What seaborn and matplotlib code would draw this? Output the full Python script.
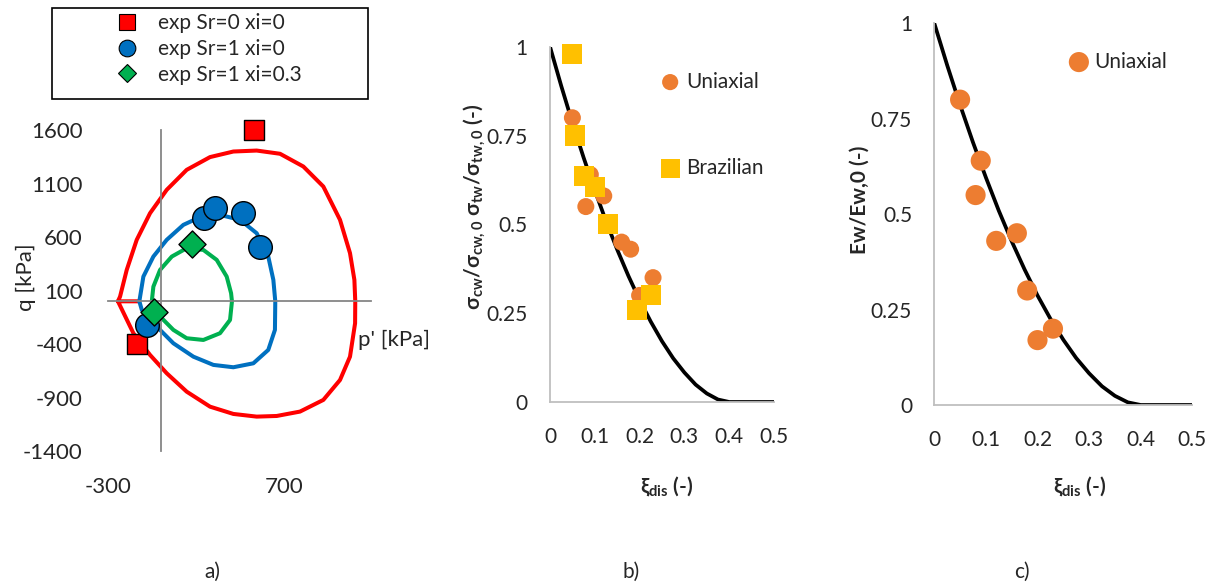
import numpy as np
import pandas as pd
import matplotlib
matplotlib.use("Agg")
import matplotlib.pyplot as plt
import seaborn as sns
from matplotlib.patches import Rectangle
from matplotlib.lines import Line2D

# ---- panel a data (p', q in kPa) ----
exp_sr0_p = [530, -135]
exp_sr0_q = [1600, -400]
exp_sr1_p = [245, 308, 467, 564, -78]
exp_sr1_q = [775, 869, 822, 503, -219]
exp_xi03_p = [177, -39]
exp_xi03_q = [531, -97]

red_p = [-130, -245, -233, -195, -138, -62, 33, 147, 280, 413, 546, 679, 812, 926, 1021,
         1078, 1103, 1108, 1107, 1078, 1021, 926, 793, 660, 546, 413, 280, 147, 33, -62,
         -157, -245]
red_q = [0, 0, 44, 293, 574, 823, 1041, 1228, 1347, 1399, 1408, 1378, 1259, 1072, 761,
         450, 200, 0, -205, -517, -735, -921, -1030, -1071, -1077, -1052, -984, -844, -672,
         -501, -298, 0]
blue_p = [-123, -100, -43, 33, 128, 223, 337, 451, 546, 612, 641, 652, 650, 612, 527,
          413, 299, 185, 71, -5, -62, -109, -123]
blue_q = [0, 231, 418, 574, 714, 786, 807, 761, 636, 418, 200, 0, -267, -454, -579,
          -616, -594, -517, -392, -267, -174, -80, 0]
green_p = [-52, -43, -5, 62, 147, 242, 318, 375, 400, 405, 394, 337, 242, 147, 71, 5, -43, -52]
green_q = [0, 137, 293, 418, 496, 480, 387, 231, 76, 0, -174, -298, -361, -345, -267, -158, -64, 0]

# ---- panels b, c data ----
xi_uni = [0.05, 0.09, 0.08, 0.12, 0.16, 0.18, 0.23, 0.20]
str_uni = [0.80, 0.64, 0.55, 0.58, 0.45, 0.43, 0.35, 0.30]
xi_bra = [0.05, 0.055, 0.075, 0.10, 0.13, 0.195, 0.225]
str_bra = [0.98, 0.75, 0.635, 0.605, 0.50, 0.26, 0.30]
ew_uni = [0.80, 0.64, 0.55, 0.43, 0.45, 0.30, 0.20, 0.17]

xi_model = [0, 0.025, 0.05, 0.075, 0.1, 0.125, 0.15, 0.175, 0.2, 0.225, 0.25, 0.275,
            0.3, 0.325, 0.35, 0.375, 0.4, 0.5]
deg_model = [1.0, 0.890, 0.786, 0.688, 0.596, 0.509, 0.429, 0.355, 0.287, 0.226, 0.171,
             0.123, 0.083, 0.049, 0.024, 0.007, 0.0, 0.0]

sns.set_style("white")
plt.rcParams['font.family'] = ['Lato', 'DejaVu Sans']
plt.rcParams['mathtext.fontset'] = 'custom'
plt.rcParams['mathtext.rm'] = 'Lato'
plt.rcParams['mathtext.bf'] = 'Lato:bold'
plt.rcParams['axes.unicode_minus'] = False

RED, BLUE, GREEN = '#FF0000', '#0070C0', '#00B050'
ORANGE, YELLOW = '#ED7D31', '#FFC000'
W, H = 1216, 586

fig = plt.figure(figsize=(12.16, 5.86), dpi=100)


def px_axes(x0, x1, ytop, ybot):
    return fig.add_axes([x0 / W, 1 - ybot / H, (x1 - x0) / W, (ybot - ytop) / H])


# ---------------- panel a ----------------
ax = px_axes(108.3, 371.4, 130.0, 451.2)
lw = 2.9
for pp, qq, c in [(red_p, red_q, RED), (blue_p, blue_q, BLUE), (green_p, green_q, GREEN)]:
    df = pd.DataFrame({'p': pp, 'q': qq})
    sns.lineplot(data=df, x='p', y='q', sort=False, estimator=None, color=c, linewidth=lw,
                 ax=ax)

sns.scatterplot(x=exp_sr0_p, y=exp_sr0_q, marker='s', s=220, color=RED, edgecolor='black',
                linewidth=1, ax=ax, clip_on=False, zorder=5)
sns.scatterplot(x=exp_sr1_p, y=exp_sr1_q, marker='o', s=290, color=BLUE, edgecolor='black',
                linewidth=1, ax=ax, clip_on=False, zorder=5)
sns.scatterplot(x=exp_xi03_p, y=exp_xi03_q, marker='D', s=190, color=GREEN, edgecolor='black',
                linewidth=1, ax=ax, clip_on=False, zorder=6)

ax.set_xlim(-300, 1200)
ax.set_ylim(-1400, 1600)
for s in ['top', 'right']:
    ax.spines[s].set_visible(False)
ax.spines['left'].set_position(('data', 0))
ax.spines['bottom'].set_position(('data', 0))
for s in ['left', 'bottom']:
    ax.spines[s].set_color('#868686')
    ax.spines[s].set_linewidth(1.3)
ax.set_xticks([-300, 700])
ax.set_yticks([1600, 1100, 600, 100, -400, -900, -1400])
ax.tick_params(axis='x', direction='out', length=5.5, width=1.1, color='#868686',
               labelsize=16, pad=121)
ax.tick_params(axis='y', direction='out', length=5.5, width=1.1, color='#868686',
               labelsize=16, pad=51)
ax.set_xlabel('')
ax.set_ylabel('')
fig.text(26 / W, 1 - 277 / H, 'q [kPa]', rotation=90, ha='center', va='center', fontsize=16)
fig.text(358 / W, 1 - 340 / H, "p' [kPa]", ha='left', va='center', fontsize=16)

# legend box (figure level)
fig.patches.append(Rectangle((52 / W, 1 - 99 / H), 316 / W, 91 / H, transform=fig.transFigure,
                             fill=False, edgecolor='black', linewidth=1.2))
handles = [
    Line2D([], [], ls='', marker='s', ms=11, mfc=RED, mec='black', mew=0.8),
    Line2D([], [], ls='', marker='o', ms=12, mfc=BLUE, mec='black', mew=0.8),
    Line2D([], [], ls='', marker='D', ms=9, mfc=GREEN, mec='black', mew=0.8),
]
fig.legend(handles, ['exp Sr=0 xi=0', 'exp Sr=1 xi=0', 'exp Sr=1 xi=0.3'],
           loc='upper left', bbox_to_anchor=(117 / W, 1 - 13 / H), frameon=False,
           fontsize=15, borderpad=0, borderaxespad=0, handlelength=1.0,
           handletextpad=0.95, labelspacing=0.28)


def style_deg_axes(ax):
    ax.set_xlim(0, 0.5)
    ax.set_ylim(0, 1)
    for s in ['top', 'right']:
        ax.spines[s].set_visible(False)
    for s in ['left', 'bottom']:
        ax.spines[s].set_color('#bfbfbf')
        ax.spines[s].set_linewidth(1.3)
    ax.set_xticks([0, 0.1, 0.2, 0.3, 0.4, 0.5])
    ax.set_xticklabels(['0', '0.1', '0.2', '0.3', '0.4', '0.5'])
    ax.set_yticks([0, 0.25, 0.5, 0.75, 1])
    ax.set_yticklabels(['0', '0.25', '0.5', '0.75', '1'])
    ax.tick_params(axis='x', direction='in', length=5, width=1.1, color='#bfbfbf',
                   labelsize=15, pad=18)
    ax.tick_params(axis='y', direction='in', length=5, width=1.1, color='#bfbfbf',
                   labelsize=15, pad=16)
    ax.set_xlabel('')
    ax.set_ylabel('')


# ---------------- panel b ----------------
axb = px_axes(550, 774, 46.7, 402)
sns.lineplot(x=xi_model, y=deg_model, color='black', linewidth=2.7, sort=False,
             estimator=None, ax=axb, zorder=2)
sns.scatterplot(x=xi_uni, y=str_uni, marker='o', s=150, color=ORANGE, edgecolor='none',
                ax=axb, clip_on=False, zorder=3, label='Uniaxial')
sns.scatterplot(x=xi_bra, y=str_bra, marker='s', s=210, color=YELLOW, edgecolor='none',
                ax=axb, clip_on=False, zorder=4, label='Brazilian')
style_deg_axes(axb)
axb.legend(loc='upper left', bbox_to_anchor=(0.49, 0.93), frameon=False, fontsize=15,
           borderpad=0, borderaxespad=0, handlelength=1.0, handletextpad=0.25,
           labelspacing=3.2, markerscale=0.95)
fig.text(475 / W, 1 - 207 / H,
         r'σ$_\mathbf{cw}$/σ$_\mathbf{cw,0}$ σ$_\mathbf{tw}$/σ$_\mathbf{tw,0}$ (-)',
         rotation=90, ha='center', va='center', fontsize=15, fontweight='bold')
fig.text(667 / W, 1 - 487 / H, r'ξ$_\mathbf{dis}$ (-)', ha='center', va='center',
         fontsize=15, fontweight='bold')

# ---------------- panel c ----------------
axc = px_axes(934.3, 1192.3, 23.3, 405)
sns.lineplot(x=xi_model, y=deg_model, color='black', linewidth=2.7, sort=False,
             estimator=None, ax=axc, zorder=2)
sns.scatterplot(x=xi_uni, y=ew_uni, marker='o', s=210, color=ORANGE, edgecolor='none',
                ax=axc, clip_on=False, zorder=3, label='Uniaxial')
style_deg_axes(axc)
axc.legend(loc='upper left', bbox_to_anchor=(0.52, 0.926), frameon=False, fontsize=15,
           borderpad=0, borderaxespad=0, handlelength=1.0, handletextpad=0.25)
fig.text(860 / W, 1 - 200 / H, 'Ew/Ew,0 (-)', rotation=90, ha='center', va='center',
         fontsize=15, fontweight='bold')
fig.text(1080 / W, 1 - 487 / H, r'ξ$_\mathbf{dis}$ (-)', ha='center', va='center',
         fontsize=15, fontweight='bold')

# panel letters
for x, t in [(212, 'a)'), (631, 'b)'), (1022, 'c)')]:
    fig.text(x / W, 1 - 572 / H, t, ha='center', va='center', fontsize=15)

fig.savefig('out.png', dpi=100)
